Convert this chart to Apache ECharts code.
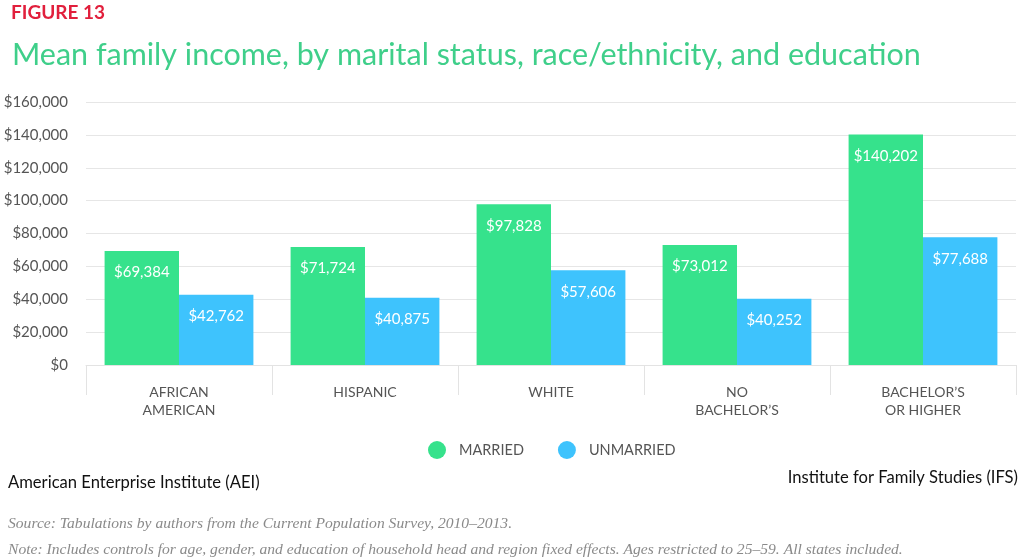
<!DOCTYPE html>
<html><head><meta charset="utf-8">
<script src="https://cdn.jsdelivr.net/npm/echarts@6/dist/echarts.min.js"></script>
<style>html,body{margin:0;padding:0;background:#fff}#c{width:1024px;height:557px}</style>
</head><body><div id="c"></div>
<script>
const categories = ['AFRICAN\nAMERICAN', 'HISPANIC', 'WHITE', 'NO\nBACHELOR\u2019S', 'BACHELOR\u2019S\nOR HIGHER'];
const married = [69384, 71724, 97828, 73012, 140202];
const unmarried = [42762, 40875, 57606, 40252, 77688];
const yTicks = [0, 20000, 40000, 60000, 80000, 100000, 120000, 140000, 160000];

const fmt = v => '$' + v.toLocaleString('en-US');
const chart = echarts.init(document.getElementById('c'));
const lbl = {show: true, position: 'insideTop', distance: 14, color: '#fff', fontFamily: 'Lato', fontSize: 15, formatter: p => fmt(p.value)};
chart.setOption({
  animation: false,
  title: [
    {text: 'FIGURE 13', left: 6, top: -2, textStyle: {color: '#e11f3c', fontFamily: 'Lato', fontWeight: 'bold', fontSize: 19}},
    {text: 'Mean family income, by marital status, race/ethnicity, and education', left: 7, top: 35, textStyle: {color: '#3fcf8a', fontFamily: 'Lato', fontWeight: 'normal', fontSize: 30.5}},
    {text: 'American Enterprise Institute (AEI)', left: 3, top: 469, textStyle: {color: '#111', fontFamily: 'Lato', fontWeight: 'normal', fontSize: 16.6}},
    {text: 'Institute for Family Studies (IFS)', right: 1, top: 464, textStyle: {color: '#111', fontFamily: 'Lato', fontWeight: 'normal', fontSize: 16.6}},
    {text: 'Source: Tabulations by authors from the Current Population Survey, 2010\u20132013.', left: 3, top: 511, textStyle: {color: '#8a8a8a', fontFamily: 'Liberation Serif', fontStyle: 'italic', fontWeight: 'normal', fontSize: 15.6}},
    {text: 'Note: Includes controls for age, gender, and education of household head and region fixed effects. Ages restricted to 25\u201359. All states included.', left: 3, top: 537, textStyle: {color: '#8a8a8a', fontFamily: 'Liberation Serif', fontStyle: 'italic', fontWeight: 'normal', fontSize: 15.6}}
  ],
  legend: {
    data: ['MARRIED', 'UNMARRIED'], left: 423, top: 436, icon: 'circle', itemWidth: 18, itemHeight: 18, itemGap: 34,
    textStyle: {color: '#555', fontFamily: 'Lato', fontSize: 14.5, padding: [0, 0, 0, 8]}
  },
  grid: {left: 86, right: 8, top: 102, bottom: 192},
  xAxis: {
    type: 'category', data: categories,
    axisLine: {lineStyle: {color: '#e3e3e3'}},
    axisTick: {show: true, length: 30, lineStyle: {color: '#e3e3e3'}},
    axisLabel: {color: '#555', fontFamily: 'Lato', fontSize: 14, margin: 18, lineHeight: 18}
  },
  yAxis: {
    type: 'value', min: 0, max: 160000, interval: 20000,
    axisLine: {show: false}, axisTick: {show: false},
    splitLine: {lineStyle: {color: '#e6e6e6'}},
    axisLabel: {color: '#555', fontFamily: 'Lato', fontSize: 15, margin: 18, formatter: v => yTicks.includes(v) ? fmt(v) : ''}
  },
  series: [
    {name: 'MARRIED', type: 'bar', data: married, itemStyle: {color: '#36e28c'}, barGap: '0%', barCategoryGap: '20%', label: lbl},
    {name: 'UNMARRIED', type: 'bar', data: unmarried, itemStyle: {color: '#3ec3fd'}, label: lbl}
  ]
});
</script></body></html>
